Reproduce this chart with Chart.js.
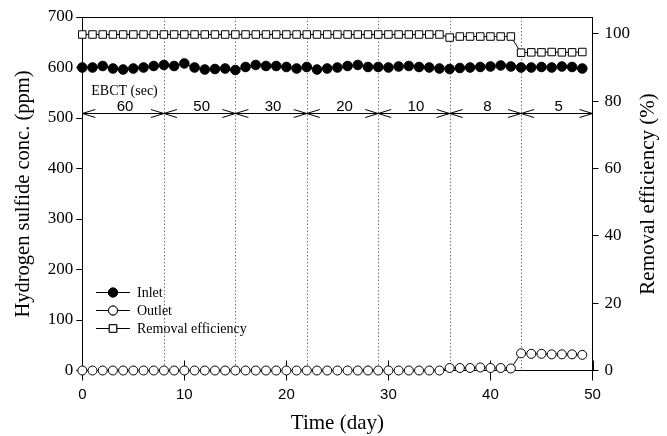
<!DOCTYPE html>
<html>
<head>
<meta charset="utf-8">
<script src="https://cdn.jsdelivr.net/npm/chart.js@4.4.1/dist/chart.umd.min.js"></script>
<style>
  body { margin: 0; background: #fff; }
  canvas { display: block; }
</style>
</head>
<body>
<canvas id="myChart" width="667" height="436"></canvas>
<script>
// data
const days = [0,1,2,3,4,5,6,7,8,9,10,11,12,13,14,15,16,17,18,19,20,21,22,23,24,25,26,27,28,29,30,31,32,33,34,35,36,37,38,39,40,41,42,43,44,45,46,47,48,49];
const inlet = [600,600,603,598,596,598,600,603,605,603,608,600,596,597,598,595,601,605,603,603,601,598,601,596,598,600,603,605,601,601,600,602,603,601,600,598,597,599,600,601,602,604,602,600,600,601,600,602,601,598];
const outlet = [0,0,0,0,0,0,0,0,0,0,0,0,0,0,0,0,0,0,0,0,0,0,0,0,0,0,0,0,0,0,0,0,0,0,0,0,5,5,5,6,5,5,4,34,33,33,32,32,32,31];
const removal = [99.8,99.8,99.8,99.8,99.8,99.8,99.8,99.8,99.8,99.8,99.8,99.8,99.8,99.8,99.8,99.8,99.8,99.8,99.8,99.8,99.8,99.8,99.8,99.8,99.8,99.8,99.8,99.8,99.8,99.8,99.8,99.8,99.8,99.8,99.8,99.8,98.9,99.2,99.2,99.2,99.2,99.2,99.2,94.4,94.5,94.5,94.6,94.5,94.5,94.6];

// tick labels
const xTicks = [0, 10, 20, 30, 40, 50];
const rightTicks = [0, 20, 40, 60, 80, 100];

// EBCT periods
const ebctBounds = [0, 8, 15, 22, 29, 36, 43, 50];
const ebctLabels = ['60', '50', '30', '20', '10', '8', '5'];
const ebctLevel = 510;

const serif = "'Liberation Serif', 'Times New Roman', serif";
const sans = "'Liberation Sans', Arial, sans-serif";

const pts = (ys) => days.map((d, i) => ({ x: d, y: ys[i] }));

const extras = {
  id: 'extras',
  beforeDatasetsDraw(chart) {
    const { ctx, chartArea: a, scales: { x } } = chart;
    ctx.save();
    // dotted period separators
    ctx.strokeStyle = '#777';
    ctx.lineWidth = 1;
    ctx.setLineDash([1.5, 2]);
    ebctBounds.slice(1, -1).forEach(b => {
      const px = Math.round(x.getPixelForValue(b)) + 0.5;
      ctx.beginPath();
      ctx.moveTo(px, a.top);
      ctx.lineTo(px, a.bottom);
      ctx.stroke();
    });
    ctx.setLineDash([]);
    // top frame line
    ctx.strokeStyle = '#000';
    ctx.beginPath();
    ctx.moveTo(a.left, a.top + 0.5);
    ctx.lineTo(a.right, a.top + 0.5);
    ctx.stroke();
    // x ticks cross the axis
    xTicks.forEach(t => {
      const px = Math.round(x.getPixelForValue(t)) + 0.5;
      ctx.beginPath();
      ctx.moveTo(px, a.bottom - 10);
      ctx.lineTo(px, a.bottom);
      ctx.stroke();
    });
    ctx.restore();
  },
  afterDatasetsDraw(chart) {
    const { ctx, chartArea: a, scales: { x, y } } = chart;
    ctx.save();
    ctx.strokeStyle = '#000';
    ctx.fillStyle = '#000';
    ctx.lineWidth = 1;

    // EBCT arrows
    const ly = Math.round(y.getPixelForValue(ebctLevel)) + 0.5;
    ctx.beginPath();
    ctx.moveTo(x.getPixelForValue(0), ly);
    ctx.lineTo(x.getPixelForValue(50), ly);
    ctx.stroke();
    ctx.font = '15px ' + sans;
    ctx.textAlign = 'center';
    ctx.textBaseline = 'alphabetic';
    for (let i = 0; i < ebctLabels.length; i++) {
      const xs = x.getPixelForValue(ebctBounds[i]);
      const xe = x.getPixelForValue(ebctBounds[i + 1]);
      ctx.beginPath();
      ctx.moveTo(xs + 13, ly - 4);
      ctx.lineTo(xs, ly);
      ctx.lineTo(xs + 13, ly + 4);
      ctx.moveTo(xe - 13, ly - 4);
      ctx.lineTo(xe, ly);
      ctx.lineTo(xe - 13, ly + 4);
      ctx.stroke();
      ctx.fillText(ebctLabels[i], (xs + xe) / 2 + 2, ly - 3);
    }
    ctx.font = '14px ' + serif;
    ctx.textAlign = 'left';
    ctx.textBaseline = 'middle';
    ctx.fillText('EBCT (sec)', a.left + 9, 91);

    // legend
    const rows = [
      { label: 'Inlet', style: 'circle', fill: '#000', r: 4.5, y: 292 },
      { label: 'Outlet', style: 'circle', fill: '#fff', r: 4.5, y: 310 },
      { label: 'Removal efficiency', style: 'rect', fill: '#fff', r: 5.3, y: 328 }
    ];
    ctx.font = '14px ' + serif;
    rows.forEach(r => {
      ctx.strokeStyle = '#000';
      ctx.beginPath();
      ctx.moveTo(96, r.y + 0.5);
      ctx.lineTo(130, r.y + 0.5);
      ctx.stroke();
      ctx.fillStyle = r.fill;
      Chart.helpers.drawPoint(ctx, { pointStyle: r.style, radius: r.r, borderWidth: 1 }, 113, r.y + 0.5);
      ctx.fill();
      ctx.stroke();
      ctx.fillStyle = '#000';
      ctx.fillText(r.label, 137, r.y + 1);
    });

    // axis titles
    ctx.textAlign = 'center';
    ctx.textBaseline = 'middle';
    ctx.font = '21px ' + serif;
    ctx.fillText('Time (day)', (a.left + a.right) / 2, 423);
    ctx.save();
    ctx.translate(24, 194);
    ctx.rotate(-Math.PI / 2);
    ctx.font = '20.5px ' + serif;
    ctx.fillText('Hydrogen sulfide conc. (ppm)', 0, 0);
    ctx.restore();
    ctx.save();
    ctx.translate(648, 194);
    ctx.rotate(-Math.PI / 2);
    ctx.font = '21px ' + serif;
    ctx.fillText('Removal efficiency (%)', 0, 0);
    ctx.restore();
    ctx.restore();
  }
};

new Chart(document.getElementById('myChart').getContext('2d'), {
  type: 'line',
  data: {
    datasets: [
      {
        label: 'Inlet',
        data: pts(inlet),
        yAxisID: 'y',
        borderColor: '#000',
        borderWidth: 1,
        pointStyle: 'circle',
        pointRadius: 4.8,
        pointBackgroundColor: '#000',
        pointBorderColor: '#000',
        pointBorderWidth: 1
      },
      {
        label: 'Outlet',
        data: pts(outlet),
        yAxisID: 'y',
        borderColor: '#000',
        borderWidth: 1,
        pointStyle: 'circle',
        pointRadius: 4.5,
        pointBackgroundColor: '#fff',
        pointBorderColor: '#000',
        pointBorderWidth: 1
      },
      {
        label: 'Removal efficiency',
        data: pts(removal),
        yAxisID: 'y1',
        borderColor: '#000',
        borderWidth: 1,
        pointStyle: 'rect',
        pointRadius: 5.3,
        pointBackgroundColor: '#fff',
        pointBorderColor: '#000',
        pointBorderWidth: 1
      }
    ]
  },
  options: {
    responsive: false,
    animation: false,
    devicePixelRatio: 1,
    clip: false,
    layout: { padding: { top: 17, left: 0, right: 0, bottom: 0 } },
    plugins: { legend: { display: false }, tooltip: { enabled: false } },
    scales: {
      x: {
        type: 'linear',
        min: 0,
        max: 50,
        ticks: { stepSize: 10, color: '#000', font: { family: sans, size: 15 }, padding: 5 },
        afterBuildTicks(s) { s.ticks = xTicks.map(v => ({ value: v })); },
        grid: { drawOnChartArea: false, tickLength: 10, color: '#000' },
        border: { color: '#000' },
        afterFit(s) { s.height = 65.5; }
      },
      y: {
        position: 'left',
        min: 0,
        max: 700,
        ticks: { stepSize: 100, color: '#000', font: { family: serif, size: 17 }, padding: 3 },
        grid: { drawOnChartArea: false, tickLength: 6, color: '#000' },
        border: { color: '#000' },
        afterFit(s) { s.width = 82.3; }
      },
      y1: {
        position: 'right',
        min: 0,
        max: 105,
        ticks: { color: '#000', font: { family: serif, size: 17 }, padding: 6 },
        afterBuildTicks(s) { s.ticks = rightTicks.map(v => ({ value: v })); },
        grid: { drawOnChartArea: false, tickLength: 6, color: '#000' },
        border: { color: '#000' },
        afterFit(s) { s.width = 74.5; }
      }
    }
  },
  plugins: [extras]
});
</script>
</body>
</html>
